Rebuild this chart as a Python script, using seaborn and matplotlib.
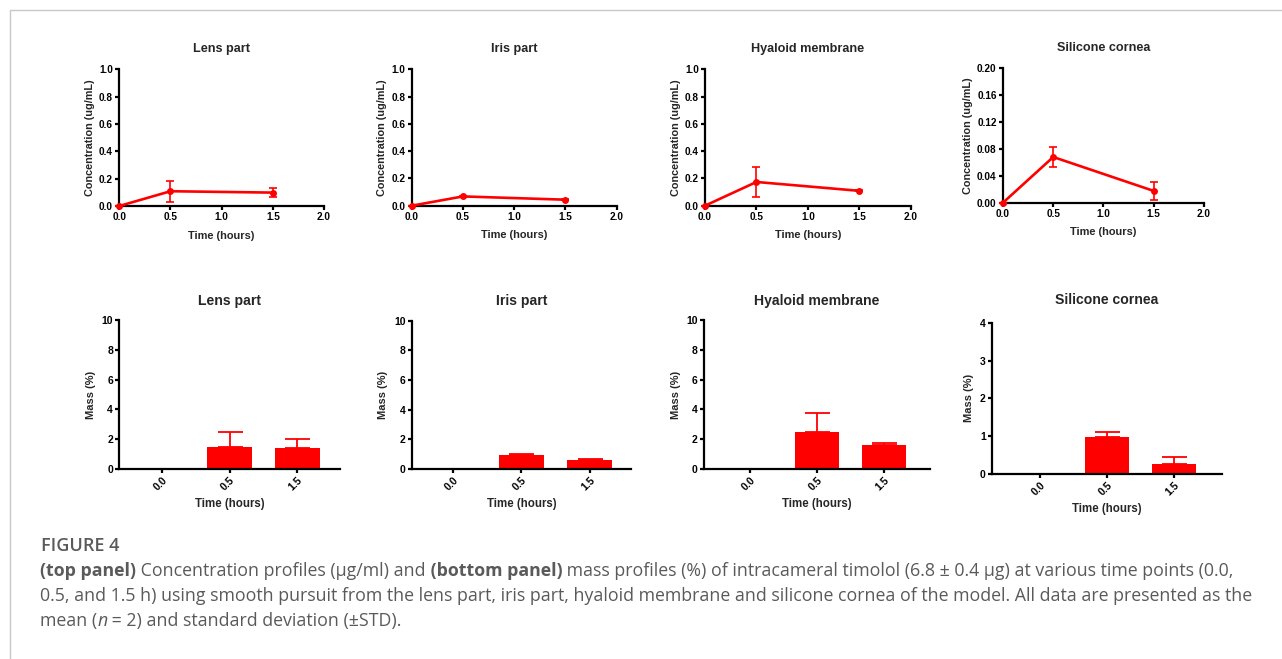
import numpy as np
import pandas as pd
import matplotlib
matplotlib.use("Agg")
from matplotlib import pyplot as plt
from matplotlib.lines import Line2D
from matplotlib.ticker import FormatStrFormatter
import seaborn as sns

# ---- data ----
tissues = ["Lens part", "Iris part", "Hyaloid membrane", "Silicone cornea"]
hours = [0.0, 0.5, 1.5]
hour_labels = ["0.0", "0.5", "1.5"]

# concentration (ug/mL): mean and STD
conc_lens = [0.0, 0.108, 0.098]
conc_lens_sd = [0.0, 0.077, 0.034]
conc_iris = [0.0, 0.068, 0.044]
conc_iris_sd = [0.0, 0.003, 0.002]
conc_hyaloid = [0.0, 0.174, 0.109]
conc_hyaloid_sd = [0.0, 0.108, 0.004]
conc_cornea = [0.0, 0.068, 0.0175]
conc_cornea_sd = [0.0, 0.0155, 0.0135]

# mass (%): mean and STD (only drawn upward)
mass_lens = [0.0, 1.47, 1.43]
mass_lens_sd = [0.0, 0.98, 0.55]
mass_iris = [0.0, 0.95, 0.62]
mass_iris_sd = [0.0, 0.05, 0.08]
mass_hyaloid = [0.0, 2.45, 1.62]
mass_hyaloid_sd = [0.0, 1.28, 0.11]
mass_cornea = [0.0, 0.97, 0.26]
mass_cornea_sd = [0.0, 0.14, 0.20]

conc_means = [conc_lens, conc_iris, conc_hyaloid, conc_cornea]
conc_sds = [conc_lens_sd, conc_iris_sd, conc_hyaloid_sd, conc_cornea_sd]
mass_means = [mass_lens, mass_iris, mass_hyaloid, mass_cornea]
mass_sds = [mass_lens_sd, mass_iris_sd, mass_hyaloid_sd, mass_cornea_sd]

conc_ymax = [1.0, 1.0, 1.0, 0.20]
conc_yticks = [np.arange(0, 1.01, 0.2)] * 3 + [np.arange(0, 0.201, 0.04)]
conc_fmt = ["%.1f", "%.1f", "%.1f", "%.2f"]
mass_ymax = [10, 10, 10, 4]
mass_yticks = [np.arange(0, 11, 2)] * 3 + [np.arange(0, 5, 1)]

# ---- style ----
sns.set_style("ticks")
plt.rcParams["font.family"] = ["Liberation Sans", "DejaVu Sans"]
plt.rcParams["font.weight"] = "bold"
plt.rcParams["axes.labelweight"] = "bold"
plt.rcParams["axes.titleweight"] = "bold"
plt.rcParams["axes.linewidth"] = 1.6
plt.rcParams["xtick.major.width"] = 1.6
plt.rcParams["ytick.major.width"] = 1.6
plt.rcParams["xtick.major.size"] = 3
plt.rcParams["ytick.major.size"] = 3
plt.rcParams["xtick.major.pad"] = 1.5
plt.rcParams["ytick.major.pad"] = 1.5
plt.rcParams["xtick.color"] = "black"
plt.rcParams["ytick.color"] = "black"
plt.rcParams["axes.edgecolor"] = "black"

W, H = 1282, 659
fig = plt.figure(figsize=(W / 100, H / 100), dpi=100)


def add_ax(left, top, right, bottom):
    return fig.add_axes([left / W, 1 - bottom / H, (right - left) / W, (bottom - top) / H])


top_boxes = [(119.3, 69.3, 324, 206), (411.7, 69.3, 616.7, 205.7),
             (705, 69.3, 910.7, 205.7), (1003, 68.3, 1204, 202.7)]
bottom_boxes = [(119.3, 320, 340, 469), (411.7, 320.7, 631, 469),
                (704, 320, 930, 469), (992, 322.7, 1222, 474)]
bottom_pad = [0.63, 0.60, 0.69, 0.72]
bottom_title_pad = [11, 11, 11, 13.5]

red = "#ff0000"

# top row: concentration profiles
for i in range(4):
    ax = add_ax(*top_boxes[i])
    df = pd.DataFrame({"time": hours, "conc": conc_means[i], "sd": conc_sds[i]})
    sns.lineplot(data=df, x="time", y="conc", ax=ax, color=red, lw=1.9,
                 marker="o", markersize=5, markeredgewidth=0, clip_on=False, zorder=3)
    ax.errorbar(df["time"], df["conc"], yerr=df["sd"], fmt="none", ecolor=red,
                elinewidth=1.2, capsize=3.2, capthick=1.2, clip_on=False, zorder=3)
    ax.set_xlim(0, 2)
    ax.set_ylim(0, conc_ymax[i])
    ax.set_xticks([0, 0.5, 1.0, 1.5, 2.0])
    ax.set_yticks(conc_yticks[i])
    ax.xaxis.set_major_formatter(FormatStrFormatter("%.1f"))
    ax.yaxis.set_major_formatter(FormatStrFormatter(conc_fmt[i]))
    ax.tick_params(labelsize=7.2)
    ax.set_xlabel("Time (hours)", fontsize=7.9, labelpad=6)
    ax.set_ylabel("Concentration (ug/mL)", fontsize=7.8, labelpad=3)
    ax.set_title(tissues[i], fontsize=9.1, pad=12.5)
    sns.despine(ax=ax)

# bottom row: mass profiles
for i in range(4):
    ax = add_ax(*bottom_boxes[i])
    df = pd.DataFrame({"time": hour_labels, "mass": mass_means[i], "sd": mass_sds[i]})
    sns.barplot(data=df, x="time", y="mass", ax=ax, color=red, saturation=1,
                width=0.66, linewidth=0, errorbar=None, zorder=2)
    centers = [p.get_x() + p.get_width() / 2 for p in ax.patches]
    ax.errorbar(centers, df["mass"], yerr=[np.zeros(len(df)), df["sd"]], fmt="none",
                ecolor=red, elinewidth=1.3, capsize=9, capthick=1.3, zorder=1)
    ax.set_xlim(-bottom_pad[i], 2 + bottom_pad[i])
    ax.set_ylim(0, mass_ymax[i])
    ax.set_yticks(mass_yticks[i])
    ax.tick_params(labelsize=7.5)
    for lab in ax.get_xticklabels():
        lab.set_rotation(45)
        lab.set_ha("right")
        lab.set_va("top")
        lab.set_rotation_mode("anchor")
    ax.set_xlabel("Time (hours)", fontsize=8.3, labelpad=4)
    ax.set_ylabel("Mass (%)", fontsize=8.0, labelpad=4)
    ax.set_title(tissues[i], fontsize=10.1, pad=bottom_title_pad[i])
    sns.despine(ax=ax)

# frame around the figure block
frame = "#c8c8c8"
fig.add_artist(Line2D([10 / W, 1], [1 - 10 / H, 1 - 10 / H], transform=fig.transFigure, color=frame, lw=1))
fig.add_artist(Line2D([10 / W, 10 / W], [0, 1 - 10 / H], transform=fig.transFigure, color=frame, lw=1))

# caption
grey = "#5a5a5a"
fig.text(41 / W, 1 - 546 / H, "FIGURE 4", family="Open Sans", fontsize=13,
         color=grey, weight="semibold", va="center", ha="left")

renderer = fig.canvas.get_renderer()


def put_runs(x, y, runs, size=12.75):
    for text, weight, style in runs:
        t = fig.text(x / W, 1 - y / H, text, family="Open Sans", fontsize=size,
                     color=grey, weight=weight, style=style, va="center", ha="left")
        x += t.get_window_extent(renderer).width


put_runs(40, 571, [("(top panel)", "bold", "normal"),
                   (" Concentration profiles (\u03bcg/ml) and", "normal", "normal"),
                   (" (bottom panel)", "bold", "normal"),
                   (" mass profiles (%) of intracameral timolol (6.8 \u00b1 0.4 \u03bcg) at various time points (0.0,",
                    "normal", "normal")])
put_runs(40, 596, [("0.5, and 1.5 h) using smooth pursuit from the lens part, iris part, hyaloid membrane and "
                    "silicone cornea of the model. All data are presented as the", "normal", "normal")])
put_runs(40, 621, [("mean (", "normal", "normal"), ("n", "normal", "italic"),
                   (" = 2) and standard deviation (\u00b1STD).", "normal", "normal")])

fig.savefig("out.png", dpi=100)
